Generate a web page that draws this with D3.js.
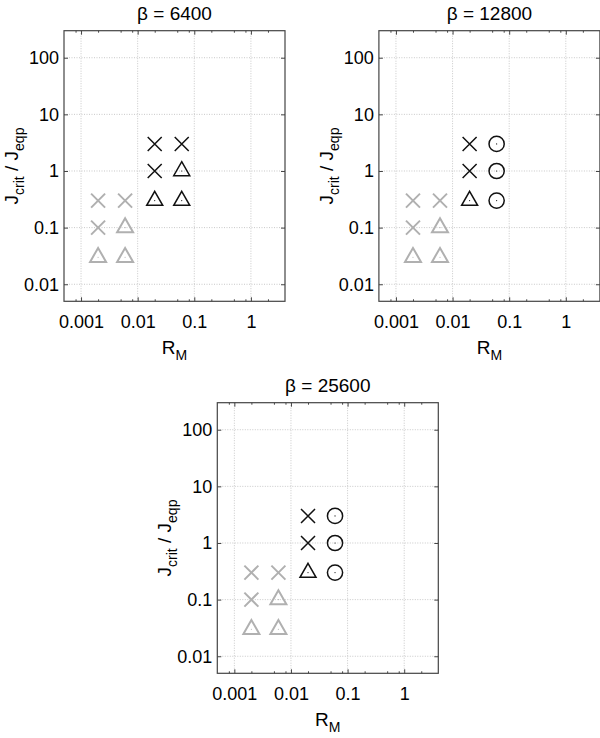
<!DOCTYPE html>
<html>
<head>
<meta charset="utf-8">
<script src="https://cdn.jsdelivr.net/npm/d3@7"></script>
<style>
  body { margin: 0; background: #fff; }
  text { font-family: "Liberation Sans", Arial, Helvetica, sans-serif; fill: #000; }
</style>
</head>
<body>
<div id="chart"></div>
<script>
// panel titles
const betas = [6400, 12800, 25600]

// axis ticks
const xMajorTicks = [0.001, 0.01, 0.1, 1]
const xMinorTicks = [0.0008, 0.002, 0.005, 0.008, 0.02, 0.05, 0.08, 0.2, 0.5, 0.8, 2]
const yMajorTicks = [0.01, 0.1, 1, 10, 100]

// points: [R_M, Jcrit/Jeqp, shape]  (gray = low R_M runs, same in every panel)
const grayPoints = [
    [0.002, 0.3, "x"], [0.002, 0.1, "x"], [0.002, 0.03, "tri"],
    [0.006, 0.3, "x"], [0.006, 0.1, "tri"], [0.006, 0.03, "tri"]
]
const blackPoints6400 = [
    [0.02, 3, "x"], [0.02, 1, "x"], [0.02, 0.3, "tri"],
    [0.06, 3, "x"], [0.06, 1, "tri"], [0.06, 0.3, "tri"]
]
const blackPoints12800 = [
    [0.02, 3, "x"], [0.02, 1, "x"], [0.02, 0.3, "tri"],
    [0.06, 3, "circ"], [0.06, 1, "circ"], [0.06, 0.3, "circ"]
]
const blackPoints25600 = [
    [0.02, 3, "x"], [0.02, 1, "x"], [0.02, 0.3, "tri"],
    [0.06, 3, "circ"], [0.06, 1, "circ"], [0.06, 0.3, "circ"]
]
const blackPoints = [blackPoints6400, blackPoints12800, blackPoints25600]

// panel box positions (left, top)
const panelPos = [[64, 30.7], [378.9, 30.7], [217.3, 402.7]]
const boxW = 221, boxH = 270.6

const svg = d3.select("#chart")
    .append("svg")
    .attr("width", 600)
    .attr("height", 738)

const x = d3.scaleLog().domain([0.0005, 4]).range([0, boxW])
const y = d3.scaleLog().domain([0.005, 300]).range([boxH, 0])

const axisColor = "#444"
const font = "'Liberation Sans', Arial, sans-serif"

function drawMarker(g, d, color, sw) {
    const px = x(d[0]), py = y(d[1])
    const m = g.append("g")
        .attr("transform", `translate(${px},${py})`)
        .attr("fill", "none")
        .attr("stroke", color)
        .attr("stroke-width", sw)
    if (d[2] == "x") {
        const s = 7
        m.append("path").attr("d", `M${-s},${-s}L${s},${s}M${-s},${s}L${s},${-s}`)
    } else if (d[2] == "tri") {
        const w = 8, h = 14
        m.append("path")
            .attr("d", `M0,${-2 * h / 3}L${w},${h / 3}L${-w},${h / 3}Z`)
            .attr("stroke-linejoin", "miter")
        m.append("circle").attr("r", 0.6).attr("fill", color).attr("stroke", "none")
    } else {
        m.append("circle").attr("r", 7.6)
        m.append("circle").attr("r", 0.6).attr("fill", color).attr("stroke", "none")
    }
}

betas.forEach((beta, i) => {
    const g = svg.append("g")
        .attr("transform", `translate(${panelPos[i][0]},${panelPos[i][1]})`)

    // grid
    g.append("g").selectAll("line")
        .data(xMajorTicks)
        .join("line")
        .attr("x1", d => x(d)).attr("x2", d => x(d))
        .attr("y1", 0).attr("y2", boxH)
        .attr("stroke", "#c8c8c8")
        .attr("stroke-dasharray", "1,1.5")
    g.append("g").selectAll("line")
        .data(yMajorTicks)
        .join("line")
        .attr("y1", d => y(d)).attr("y2", d => y(d))
        .attr("x1", 0).attr("x2", boxW)
        .attr("stroke", "#c8c8c8")
        .attr("stroke-dasharray", "1,1.5")

    // bottom axis with labels
    const bottom = g.append("g")
        .attr("transform", `translate(0,${boxH})`)
        .call(d3.axisBottom(x).tickValues(xMajorTicks).tickSize(-4).tickPadding(14.2)
            .tickFormat(d => String(d)))
    bottom.append("g")
        .call(d3.axisBottom(x).tickValues(xMinorTicks).tickSize(-2).tickFormat(""))
    // top axis
    const top = g.append("g")
        .call(d3.axisTop(x).tickValues(xMajorTicks).tickSize(-4).tickFormat(""))
    top.append("g")
        .call(d3.axisTop(x).tickValues(xMinorTicks).tickSize(-2).tickFormat(""))
    // left axis with labels
    const left = g.append("g")
        .call(d3.axisLeft(y).tickValues(yMajorTicks).tickSize(-4).tickPadding(5)
            .tickFormat(d => String(d)))
    // right axis
    const right = g.append("g")
        .attr("transform", `translate(${boxW},0)`)
        .call(d3.axisRight(y).tickValues(yMajorTicks).tickSize(-4).tickFormat(""))

    g.selectAll(".domain").remove()
    g.selectAll(".tick line").attr("stroke", axisColor).attr("stroke-width", 1)
    g.selectAll(".tick text")
        .style("font-size", "18px")
        .attr("fill", "#000")
        .style("font-family", font)

    // box
    g.append("rect")
        .attr("width", boxW).attr("height", boxH)
        .attr("fill", "none")
        .attr("stroke", axisColor)
        .attr("stroke-width", 1.2)

    // markers
    grayPoints.forEach(d => drawMarker(g, d, "#b0b0b0", 2))
    blackPoints[i].forEach(d => drawMarker(g, d, "#111", 1.5))

    // title
    g.append("text")
        .attr("x", boxW / 2)
        .attr("y", -11)
        .attr("text-anchor", "middle")
        .style("font-size", "19px")
        .text("β = " + beta)

    // x label
    const xl = g.append("text")
        .attr("x", boxW / 2)
        .attr("y", boxH + 52.7)
        .attr("text-anchor", "middle")
        .style("font-size", "19px")
    xl.append("tspan").text("R")
    xl.append("tspan").attr("dy", 6).style("font-size", "14px").text("M")

    // y label
    const yl = g.append("text")
        .attr("transform", `translate(-46,${boxH / 2}) rotate(-90)`)
        .attr("text-anchor", "middle")
        .style("font-size", "19px")
    yl.append("tspan").text("J")
    yl.append("tspan").attr("dy", 6).style("font-size", "14px").text("crit")
    yl.append("tspan").attr("dy", -6).text(" / J")
    yl.append("tspan").attr("dy", 6).style("font-size", "14px").text("eqp")
})
</script>
</body>
</html>
